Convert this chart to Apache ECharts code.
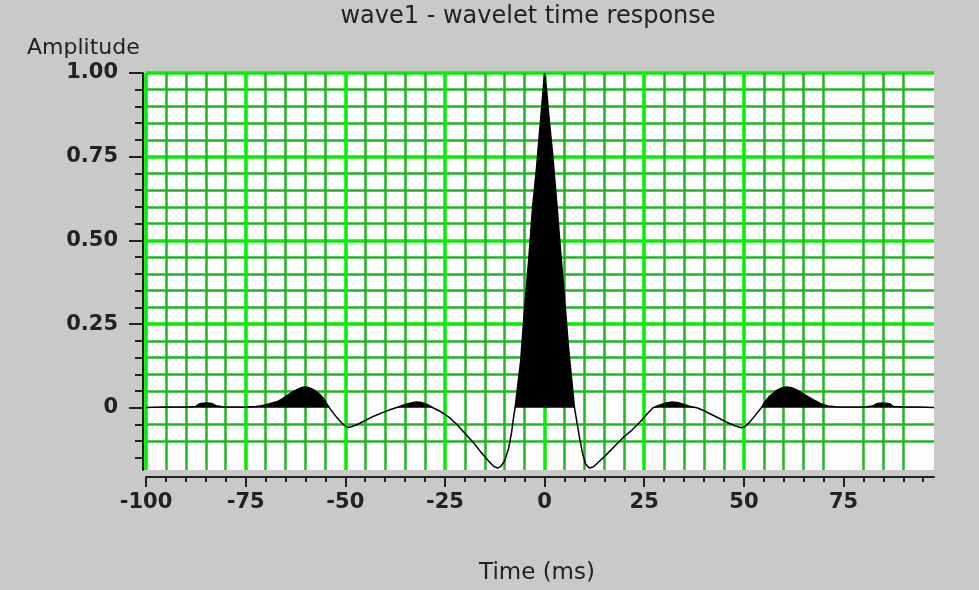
<!DOCTYPE html>
<html>
<head>
<meta charset="utf-8">
<title>wave1 - wavelet time response</title>
<script src="https://cdn.jsdelivr.net/npm/echarts@6/dist/echarts.min.js"></script>
<style>
  html, body { margin: 0; padding: 0; background: #c9c9c9; }
  #main { width: 979px; height: 590px; }
</style>
</head>
<body>
<div id="main"></div>
<script>
// time axis (ms) and wavelet amplitude
var timeMs = [
  -100, -96, -92, -89, -87.5, -86.5, -85, -83.5, -82.5, -81, -78, -75, -72.5, -71, -69, -67, -66, -65, -64, -63,
  -62, -61, -60.3, -59.5, -58.5, -57.5, -56.5, -55.5, -54.7, -54, -53, -52, -51, -50, -49.4, -48.5, -47, -45, -43, -41,
  -39, -37.3, -36, -34.5, -33, -32, -31, -29.5, -28, -26, -24, -22, -20, -18, -16, -14, -12.8, -11.8, -11, -10,
  -9, -8.3, -7.8, -7.4, -7, -6, -5, -4, -3, -2, -1, -0.5, 0, 0.5, 1, 2, 3, 4, 5, 6,
  7, 7.5, 8, 8.7, 9.5, 10.3, 11.2, 12.2, 13.5, 15.5, 18, 20, 22, 24, 26, 27.2, 29, 30.5, 32, 33.5,
  35, 36.5, 38.2, 40, 42, 44, 46, 48, 49.4, 50.3, 51.3, 52.3, 53.3, 54.4, 55.3, 56.5, 58, 59.5, 60.7, 62,
  63.5, 65, 66.5, 68, 69.5, 71, 73, 77, 81, 82.5, 83.5, 85, 86.5, 87.5, 90, 94, 97.7
];
var amplitude = [
  0.001, 0.002, 0.002, 0.003, 0.004, 0.012, 0.014, 0.013, 0.006, 0.003, 0.002, 0.002, 0.004, 0.006, 0.012, 0.019, 0.025, 0.033, 0.041, 0.049,
  0.055, 0.06, 0.062, 0.061, 0.057, 0.05, 0.041, 0.028, 0.013, 0, -0.016, -0.031, -0.044, -0.054, -0.059, -0.057, -0.05, -0.038, -0.026, -0.016,
  -0.007, 0, 0.005, 0.011, 0.016, 0.017, 0.016, 0.01, 0, -0.012, -0.028, -0.05, -0.076, -0.102, -0.132, -0.16, -0.175, -0.18, -0.176, -0.158,
  -0.12, -0.075, -0.03, 0, 0.04, 0.14, 0.3, 0.44, 0.6, 0.72, 0.86, 0.93, 1.0, 0.95, 0.88, 0.76, 0.62, 0.47, 0.33, 0.18,
  0.06, 0, -0.035, -0.085, -0.135, -0.168, -0.18, -0.177, -0.163, -0.14, -0.11, -0.086, -0.066, -0.042, -0.015, 0, 0.008, 0.014, 0.017, 0.015,
  0.01, 0.004, 0, -0.009, -0.021, -0.033, -0.045, -0.055, -0.06, -0.056, -0.045, -0.031, -0.016, 0, 0.018, 0.035, 0.05, 0.059, 0.062, 0.06,
  0.052, 0.041, 0.03, 0.02, 0.011, 0.005, 0.003, 0.002, 0.003, 0.006, 0.013, 0.014, 0.012, 0.004, 0.003, 0.002, 0.001
];

// tick positions and labels
var xMajorTicks = [-100, -75, -50, -25, 0, 25, 50, 75];
var yMajorTicks = [0, 0.25, 0.5, 0.75, 1];
var yTickLabels = ['0', '0.25', '0.50', '0.75', '1.00'];
var xMinorTicks = [];
for (var t = -95; t <= 95; t += 5) { if (t % 25 !== 0) xMinorTicks.push(t); }
var yMinorTicks = [];
for (var k = -3; k <= 19; k++) { if (k % 5 !== 0) yMinorTicks.push(+(k * 0.05).toFixed(2)); }

var X_MIN = -100, X_MAX = 97.7, Y_MIN = -0.186, Y_MAX = 1;

// pairs for the line, and the positive part for the black fill
function buildPairs(clip) {
  var out = [];
  timeMs.forEach(function (tm, i) {
    var v = amplitude[i];
    out.push([tm, clip ? Math.max(v, 0) : v]);
  });
  return out;
}

var labelFont = { fontFamily: 'DejaVu Sans', fontWeight: 'bold', fontSize: 21, color: '#222' };

function xAxisOf(major) {
  return {
    type: 'value', position: 'bottom', offset: 7, min: X_MIN, max: X_MAX,
    interval: major ? 25 : 5,
    axisLine: { show: major, onZero: false, lineStyle: { color: '#222', width: 2 } },
    axisTick: { show: true, length: major ? 10 : 5, customValues: major ? xMajorTicks : xMinorTicks,
      lineStyle: { color: '#222', width: 2 } },
    axisLabel: Object.assign({ show: major, margin: 15, customValues: xMajorTicks }, labelFont),
    splitLine: { show: true, showMaxLine: false,
      lineStyle: major ? { color: '#00f000', width: 3.5 } : { color: '#22b522', width: 2.5 } }
  };
}

function yAxisOf(major) {
  return {
    type: 'value', position: 'left', offset: 3, min: Y_MIN, max: Y_MAX,
    axisLine: { show: major, onZero: false, lineStyle: { color: '#222', width: 2 } },
    axisTick: { show: true, length: major ? 14 : 8, customValues: major ? yMajorTicks : yMinorTicks,
      lineStyle: { color: '#222', width: 2 } },
    axisLabel: Object.assign({ show: major, margin: 25, customValues: yMajorTicks,
      formatter: function (v) { var i = yMajorTicks.indexOf(v); return i >= 0 ? yTickLabels[i] : ''; } }, labelFont),
    splitLine: { show: true, showMinLine: false,
      lineStyle: major ? { color: '#00f000', width: 3.5 } : { color: '#22b522', width: 2.5 } }
  };
}

var chart = echarts.init(document.getElementById('main'), null, { renderer: 'canvas' });
chart.setOption({
  backgroundColor: '#c9c9c9',
  animation: false,
  grid: { left: 146, right: 45, top: 73, bottom: 120, show: true,
    backgroundColor: '#fdfdfd', borderWidth: 0 },
  graphic: [
    { type: 'text', x: 528, y: 17, style: { text: 'wave1 - wavelet time response', align: 'center',
      verticalAlign: 'middle', font: '24px "DejaVu Sans"', fill: '#222' } },
    { type: 'text', x: 27, y: 48, style: { text: 'Amplitude', align: 'left',
      verticalAlign: 'middle', font: '22px "DejaVu Sans"', fill: '#222' } },
    { type: 'text', x: 537, y: 573, style: { text: 'Time (ms)', align: 'center',
      verticalAlign: 'middle', font: '23px "DejaVu Sans"', fill: '#222' } }
  ],
  xAxis: [xAxisOf(false), xAxisOf(true)],
  yAxis: [yAxisOf(false), yAxisOf(true)],
  series: [
    {
      type: 'line', xAxisIndex: 0, yAxisIndex: 0, data: buildPairs(true),
      symbol: 'none', lineStyle: { width: 0 },
      areaStyle: { color: '#000', opacity: 1 }, z: 3
    },
    {
      type: 'line', xAxisIndex: 0, yAxisIndex: 0, data: buildPairs(false),
      symbol: 'none', lineStyle: { color: '#000', width: 1.5 }, z: 4
    }
  ]
});
</script>
</body>
</html>
